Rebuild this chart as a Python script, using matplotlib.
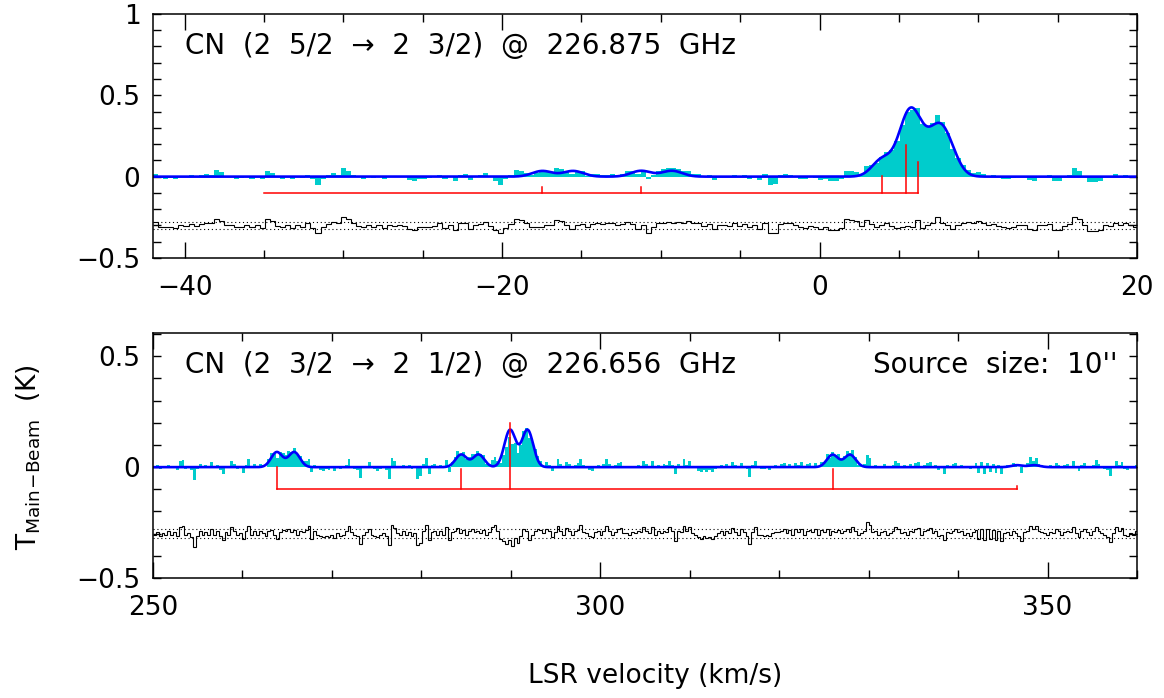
import numpy as np
import matplotlib
matplotlib.use("Agg")
import matplotlib.pyplot as plt
from matplotlib.ticker import MultipleLocator

# ---------------- data: upper spectrum ----------------
top_title = "CN  (2  5/2  \u2192  2  3/2)  @  226.875  GHz"
top_v_start = -42.0
top_chan = 0.32
top_resid = [
    0.019, -0.008, -0.012, -0.008, -0.016, 0.004, -0.004, 0.008, -0.004, 0.008,
    0.016, 0.012, 0.041, 0.029, 0.004, 0.000, -0.012, -0.008, 0.004, -0.012,
    0.000, -0.016, 0.037, 0.025, -0.004, -0.012, 0.004, -0.016, 0.000, -0.008,
    0.012, -0.016, -0.049, -0.012, 0.008, 0.021, 0.012, 0.054, 0.037, 0.012,
    -0.004, -0.012, 0.004, -0.008, 0.000, -0.016, 0.004, -0.004, 0.004, -0.004,
    -0.021, -0.025, -0.012, -0.012, -0.008, -0.004, 0.012, -0.016, 0.004, -0.025,
    0.012, 0.016, -0.021, 0.004, 0.008, 0.021, -0.004, -0.025, -0.049, -0.016,
    0.008, 0.041, 0.033, 0.012, -0.012, -0.008, -0.008, 0.000, 0.004, 0.033,
    0.025, 0.000, -0.021, 0.004, 0.008, -0.008, 0.008, 0.012, 0.008, 0.012,
    0.016, 0.004, 0.008, 0.021, 0.008, -0.021, 0.004, -0.045, -0.012, 0.012,
    0.016, 0.021, 0.016, 0.021, 0.016, 0.025, 0.012, 0.016, -0.004, 0.008,
    -0.021, 0.000, 0.004, -0.004, 0.012, -0.004, 0.008, -0.012, 0.004, -0.021,
    0.016, -0.049, -0.045, 0.008, 0.016, 0.012, 0.004, -0.012, -0.016, -0.004,
    -0.008, -0.021, -0.012, -0.025, -0.029, -0.016, 0.037, 0.033, 0.025, -0.004,
    0.033, 0.008, -0.012, 0.004, 0.012, -0.004, -0.016, -0.012, -0.004, -0.012,
    0.033, -0.016, 0.000, 0.016, 0.049, 0.016, 0.004, -0.021, 0.000, 0.012,
    0.021, 0.016, 0.025, 0.016, 0.004, 0.008, -0.004, -0.012, -0.016, -0.008,
    0.004, 0.000, -0.021, -0.025, 0.004, 0.000, 0.008, -0.029, -0.025, -0.004,
    0.008, 0.054, 0.037, 0.004, -0.033, -0.033, -0.029, 0.004, -0.004, 0.016,
    0.004, 0.012, 0.000, -0.008,
]
top_hfs_vel = [-35.0, -17.47, -11.25, 3.95, 5.45, 6.18]
top_hfs_tick = [0.002, 0.034, 0.034, 0.106, 0.297, 0.19]
top_fit_amp = [0.0, 0.035, 0.036, 0.105, 0.23, 0.135]
top_comp_offsets = [0.0, 1.95]
top_sigma = 0.635

# ---------------- data: lower spectrum ----------------
bot_title = "CN  (2  3/2  \u2192  2  1/2)  @  226.656  GHz"
bot_note = "Source  size:  10''"
bot_v_start = 250.0
bot_chan = 0.32
bot_resid = [
    -0.005, 0.008, -0.010, 0.004, -0.006, 0.010, -0.004, 0.006, -0.012, 0.030,
    0.034, -0.008, 0.004, -0.015, -0.060, -0.010, 0.012, -0.006, 0.008, -0.004,
    0.022, -0.006, 0.010, -0.012, -0.030, 0.006, -0.004, 0.030, 0.012, -0.008,
    0.004, -0.026, 0.010, 0.036, -0.004, 0.012, -0.006, 0.014, 0.004, -0.010,
    0.010, 0.016, -0.006, -0.026, 0.008, 0.018, 0.012, 0.020, 0.006, 0.016,
    -0.004, 0.014, 0.008, 0.018, 0.036, -0.024, 0.010, -0.004, -0.012, -0.016,
    -0.010, -0.014, -0.006, -0.018, 0.004, -0.010, -0.004, 0.010, 0.036, 0.006,
    -0.008, -0.012, -0.048, -0.004, 0.006, 0.022, -0.006, -0.010, -0.016, -0.008,
    0.004, -0.012, -0.052, 0.040, 0.026, 0.004, -0.006, 0.010, -0.004, 0.008,
    -0.010, 0.002, -0.052, -0.040, 0.012, 0.040, -0.030, 0.008, 0.012, -0.004,
    0.010, -0.006, 0.030, -0.030, 0.006, 0.012, 0.026, 0.004, 0.016, -0.004,
    0.010, 0.022, 0.008, 0.014, 0.004, 0.018, -0.008, 0.006, 0.030, 0.040,
    0.010, -0.025, -0.035, -0.045, -0.030, -0.055, -0.020, -0.040, -0.010, 0.020,
    0.010, -0.030, -0.004, 0.012, 0.020, 0.018, 0.004, 0.022, 0.010, -0.016,
    0.006, 0.036, 0.012, -0.006, 0.024, 0.014, -0.004, 0.010, 0.018, 0.038,
    0.008, 0.004, -0.012, -0.016, 0.006, 0.010, -0.004, 0.012, 0.036, 0.014,
    -0.006, 0.008, 0.020, 0.024, 0.004, 0.002, -0.004, 0.006, 0.002, 0.010,
    0.006, 0.028, 0.012, 0.004, 0.028, -0.006, 0.010, 0.004, 0.012, 0.008,
    0.028, 0.010, -0.032, 0.012, 0.006, 0.036, 0.010, 0.028, 0.004, -0.006,
    -0.016, -0.022, -0.012, -0.020, -0.014, -0.024, -0.010, 0.004, 0.010, -0.006,
    0.014, 0.004, 0.024, 0.008, -0.004, 0.020, 0.006, -0.010, -0.045, 0.008,
    0.028, -0.004, -0.008, -0.010, -0.006, -0.012, 0.004, 0.008, 0.006, 0.012,
    0.020, 0.004, 0.016, -0.004, 0.020, 0.008, 0.022, -0.006, 0.012, 0.018,
    0.006, 0.020, -0.004, 0.016, 0.006, 0.022, -0.008, 0.010, 0.006, 0.018,
    0.004, 0.012, 0.020, 0.008, 0.028, 0.012, -0.006, 0.004, 0.010, 0.054,
    0.040, 0.006, 0.010, -0.004, 0.006, 0.012, -0.006, 0.002, 0.010, 0.028,
    0.020, 0.004, 0.008, -0.006, 0.012, 0.006, 0.020, 0.024, -0.006, 0.010,
    0.018, 0.024, 0.004, 0.010, -0.012, -0.004, -0.030, 0.008, 0.004, 0.012,
    0.020, 0.006, 0.010, -0.006, 0.004, -0.010, 0.006, 0.018, -0.026, 0.022,
    -0.030, 0.020, -0.024, 0.016, -0.028, 0.010, -0.032, 0.004, 0.008, -0.006,
    0.010, 0.002, -0.010, -0.032, 0.006, 0.012, 0.036, 0.020, 0.034, 0.010,
    0.006, 0.004, -0.004, 0.008, 0.002, 0.020, 0.010, -0.006, 0.008, 0.012,
    0.006, 0.030, 0.004, -0.016, 0.010, 0.020, 0.006, -0.004, 0.010, 0.032,
    0.012, 0.004, -0.008, -0.014, -0.038, 0.004, 0.030, 0.010, 0.024, -0.008,
    -0.012, 0.004, -0.006, 0.010,
]
bot_hfs_vel = [263.84, 284.45, 289.92, 325.97, 346.57]
bot_hfs_tick = [0.10, 0.09, 0.30, 0.09, 0.013]
bot_fit_amp = [0.068, 0.057, 0.168, 0.056, 0.009]
bot_comp_offsets = [0.0, 1.95]
bot_sigma = 0.635

resid_offset = -0.30
resid_rms = 0.02
hfs_base = -0.10

CYAN = "#00CCCC"
BLUE = "#0000FF"
RED = "#FF0000"


def model(v, centers, amps, offsets, sigma):
    out = np.zeros_like(v, dtype=float)
    for c, a in zip(centers, amps):
        for o in offsets:
            out += a * np.exp(-0.5 * ((v - c - o) / sigma) ** 2)
    return out


def draw_panel(ax, v_start, chan, resid, hfs_vel, hfs_tick, fit_amp,
               offsets, sigma, xlim, ylim):
    resid = np.asarray(resid)
    edges = v_start + chan * np.arange(len(resid) + 1)
    centers = 0.5 * (edges[:-1] + edges[1:])
    fit_c = model(centers, hfs_vel, fit_amp, offsets, sigma)
    data = fit_c + resid
    ax.stairs(data, edges, baseline=0, fill=True, color=CYAN, lw=0)
    vf = np.linspace(xlim[0], xlim[1], 3000)
    ax.plot(vf, model(vf, hfs_vel, fit_amp, offsets, sigma), color=BLUE, lw=1.9)
    # residuals
    ax.stairs(resid + resid_offset, edges, baseline=None, color="black", lw=0.8)
    ax.axhline(resid_offset + resid_rms, color="black", ls=(0, (1, 2.5)), lw=0.8)
    ax.axhline(resid_offset - resid_rms, color="black", ls=(0, (1, 2.5)), lw=0.8)
    # hyperfine structure markers
    ax.plot([min(hfs_vel), max(hfs_vel)], [hfs_base, hfs_base], color=RED, lw=1.1)
    for hv, ht in zip(hfs_vel, hfs_tick):
        ax.plot([hv, hv], [hfs_base, hfs_base + ht], color=RED, lw=1.1)
    ax.set_xlim(*xlim)
    ax.set_ylim(*ylim)
    ax.yaxis.set_major_locator(MultipleLocator(0.5))
    ax.yaxis.set_minor_locator(MultipleLocator(0.1))
    ax.tick_params(which="both", direction="in", top=True, right=True,
                   labelsize=19, width=1.0, colors="black")
    ax.tick_params(axis="y", which="both", length=5.5, pad=9)
    ax.tick_params(axis="x", which="major", length=11.5, pad=12)
    ax.tick_params(axis="x", which="minor", length=5.5)
    for s in ax.spines.values():
        s.set_linewidth(1.1)


fig = plt.figure(figsize=(11.64, 6.98), dpi=100)
ax1 = fig.add_axes([0.1314, 0.6304, 0.8454, 0.3496])
ax2 = fig.add_axes([0.1314, 0.1719, 0.8454, 0.3510])

draw_panel(ax1, top_v_start, top_chan, top_resid, top_hfs_vel, top_hfs_tick,
           top_fit_amp, top_comp_offsets, top_sigma, (-42, 20), (-0.5, 1.0))
ax1.xaxis.set_minor_locator(MultipleLocator(5))
ax1.set_yticks([-0.5, 0, 0.5, 1])
ax1.set_yticklabels(["\u22120.5", "0", "0.5", "1"])
ax1.set_xticks([-40, -20, 0, 20])
ax1.set_xticklabels(["\u221240", "\u221220", "0", "20"])
ax1.text(0.033, 0.87, top_title, transform=ax1.transAxes, fontsize=20,
         ha="left", va="center")

draw_panel(ax2, bot_v_start, bot_chan, bot_resid, bot_hfs_vel, bot_hfs_tick,
           bot_fit_amp, bot_comp_offsets, bot_sigma, (250, 360), (-0.5, 0.605))
ax2.xaxis.set_minor_locator(MultipleLocator(10))
ax2.set_yticks([-0.5, 0, 0.5])
ax2.set_yticklabels(["\u22120.5", "0", "0.5"])
ax2.set_xticks([250, 300, 350])
ax2.text(0.033, 0.87, bot_title, transform=ax2.transAxes, fontsize=20,
         ha="left", va="center")
ax2.text(0.98, 0.87, bot_note, transform=ax2.transAxes, fontsize=20,
         ha="right", va="center")

fig.text(0.563, 0.032, "LSR velocity (km/s)", fontsize=19, ha="center", va="center")
fig.text(0.025, 0.345, r"T$_{\mathrm{Main\!-\!Beam}}$  (K)", fontsize=19,
         rotation=90, ha="center", va="center")

fig.savefig("out.png", dpi=100)
